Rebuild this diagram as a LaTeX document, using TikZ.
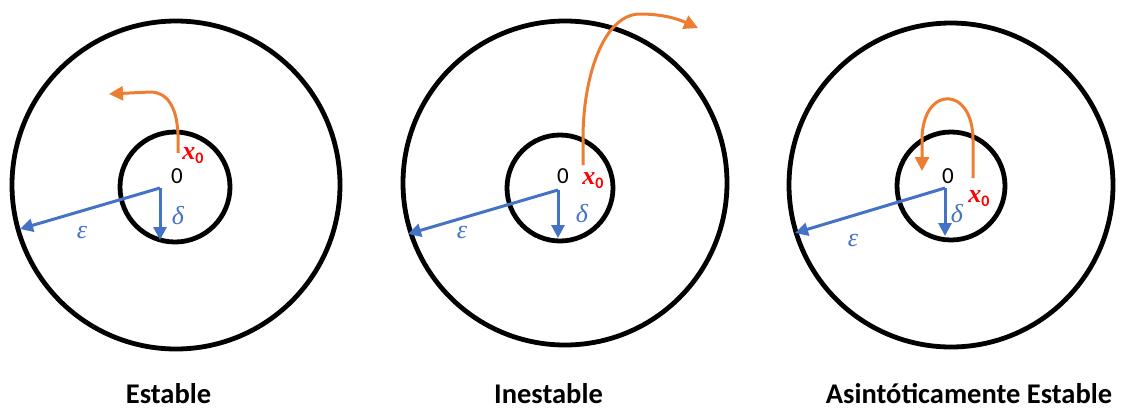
\documentclass[tikz,border=0pt]{standalone}
\usepackage{fontspec}
\setmainfont{Carlito}
\newfontfamily\gkfont{Liberation Serif}
\usetikzlibrary{arrows.meta}
\definecolor{myorange}{RGB}{237,125,49}
\definecolor{myblue}{RGB}{68,114,196}
\definecolor{myred}{RGB}{255,0,0}
\newcommand{\xzero}{{\gkfont\bfseries\itshape x}\raisebox{-4pt}{\fontsize{16}{18}\selectfont\bfseries 0}}
\tikzset{
  ring/.style={circle, draw=black, line width=4.8pt, inner sep=0pt},
  bluearrow/.style={draw=myblue, line width=3pt, -{Triangle[width=13pt,length=13pt]}},
  orangearrow/.style={draw=myorange, line width=3pt, -{Triangle[width=14pt,length=14pt]}},
  zerolabel/.style={font=\fontsize{23}{26}\selectfont, inner sep=0pt},
  greek/.style={text=myblue, font=\gkfont\itshape\fontsize{26}{28}\selectfont, inner sep=0pt},
  xlabel/.style={text=myred, font=\fontsize{26}{28}\selectfont, inner sep=0pt},
  title/.style={font=\bfseries\fontsize{28.5}{32}\selectfont, inner sep=0pt, anchor=base}
}
\begin{document}
\begin{tikzpicture}[x=1pt,y=-1pt]
\useasboundingbox (0,0) rectangle (1121,408);
% ---------- Panel 1: Estable ----------
\node[ring, minimum size=328pt] (o1) at (176,185) {};
\node[ring, minimum size=110pt] (i1) at (175,187) {};
\coordinate (c1) at (160,188);
\coordinate (e1) at (20,229);
\coordinate (d1) at (160,240);
\draw[bluearrow] (c1) -- (e1);
\draw[bluearrow] (c1) -- (d1);
\node[zerolabel] (z1) at (177,176) {0};
\node[greek] (eps1) at (82,232) {ε};
\node[greek] (del1) at (178,216) {δ};
\node[xlabel] (x1) at (193,156) {\xzero};
\coordinate (s1) at (178,153);
\coordinate (t1) at (109,94);
\draw[orangearrow] (s1) -- (178,135) .. controls (177,105) and (166,92) .. (150,92) -- (t1);
\node[title] (l1) at (168.5,403) {Estable};
% ---------- Panel 2: Inestable ----------
\node[ring, minimum size=324pt] (o2) at (565,183) {};
\node[ring, minimum size=106pt] (i2) at (560,188) {};
\coordinate (c2) at (558,190);
\coordinate (e2) at (408,234);
\coordinate (d2) at (558,238);
\draw[bluearrow] (c2) -- (e2);
\draw[bluearrow] (c2) -- (d2);
\node[zerolabel] (z2) at (563,176) {0};
\node[greek] (eps2) at (462,232) {ε};
\node[greek] (del2) at (582,214) {δ};
\node[xlabel] (x2) at (593,181) {\xzero};
\coordinate (s2) at (583,165);
\coordinate (t2) at (698,28);
\draw[orangearrow] (s2) -- (583,135) .. controls (584,70) and (606,14) .. (640,14) .. controls (660,14) and (676,18) .. (t2);
\node[title] (l2) at (548.5,403) {Inestable};
% ---------- Panel 3: Asintoticamente Estable ----------
\node[ring, minimum size=324pt] (o3) at (951,185) {};
\node[ring, minimum size=108pt] (i3) at (951,186) {};
\coordinate (c3) at (945,188);
\coordinate (e3) at (795,233);
\coordinate (d3) at (945,236);
\draw[bluearrow] (c3) -- (e3);
\draw[bluearrow] (c3) -- (d3);
\node[zerolabel] (z3) at (948,176) {0};
\node[greek] (eps3) at (853,240) {ε};
\node[greek] (del3) at (957,214) {δ};
\node[xlabel] (x3) at (979,199) {\xzero};
\coordinate (s3) at (973,178);
\coordinate (t3) at (922,171);
\draw[orangearrow] (s3) -- (973,140) .. controls (973,85) and (922,85) .. (922,140) -- (t3);
\node[title] (l3) at (969,403) {Asintóticamente Estable};
\end{tikzpicture}
\end{document}
